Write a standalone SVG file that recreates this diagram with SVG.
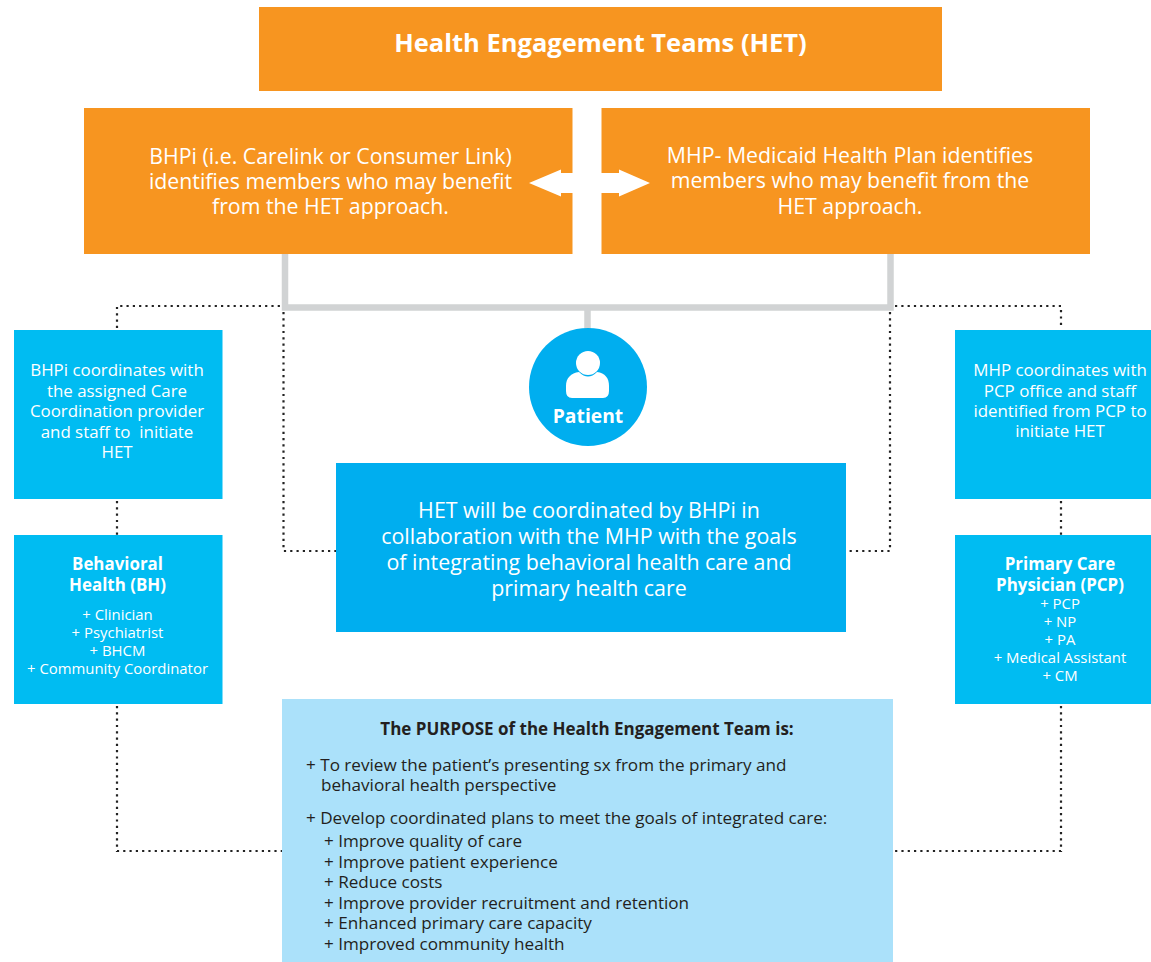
<svg xmlns="http://www.w3.org/2000/svg" width="1151" height="962" viewBox="0 0 1151 962">
<style>
text{font-family:"Open Sans","Noto Sans","Liberation Sans",sans-serif;text-anchor:middle;fill:#fff}
.o{fill:#f79520}.c{fill:#00bcf2}.b{fill:#00aeef}
.t20{font-size:21.300px}.t16{font-size:16.900px}.t14{font-size:14.900px}.bd{font-weight:700}
.p{fill:#231f20;text-anchor:start;font-size:17.100px}
.dot{fill:none;stroke:#222;stroke-width:2.200;stroke-dasharray:2.200 4.100}
.gr{fill:none;stroke:#d1d3d4;stroke-width:6.500}
</style>
<rect width="1151" height="962" fill="#fff"/>
<g id="connectors">
<path class="dot" d="M117 328V306H280M283.500 312V551H336M895 306H1061V328M890 312V551H846"/>
<path class="dot" d="M117 501V535M1061 501V535M117 706V851H282M1061 706V851H893"/>
<path class="gr" d="M285 254V307.500H890.500V254M587.500 307.500V329"/>
</g>
<g id="het"><rect class="o" x="259" y="7" width="683" height="84"/><text class="bd" x="600.500" y="52" font-size="25.500">Health Engagement Teams (HET)</text></g>
<g id="bhpi"><rect class="o" x="84" y="108" width="488.500" height="146"/>
<text class="t20" x="330.500" y="164">BHPi (i.e. Carelink or Consumer Link)</text><text class="t20" x="330.500" y="189">identifies members who may benefit</text><text class="t20" x="330.500" y="214">from the HET approach.</text></g>
<g id="mhp"><rect class="o" x="601.500" y="108" width="488.500" height="146"/>
<text class="t20" x="850" y="163">MHP- Medicaid Health Plan identifies</text><text class="t20" x="850" y="188">members who may benefit from the</text><text class="t20" x="850" y="214">HET approach.</text></g>
<g id="arrow"><path fill="#fff" d="M529 183L561 169.500V173H619V169.500L650 183L619 196.500V193H561V196.500Z"/></g>
<g id="bhpi-coord"><rect class="c" x="14" y="330" width="208.500" height="169"/>
<g class="t16"><text x="117" y="376">BHPi coordinates with</text><text x="117" y="396.500">the assigned Care</text><text x="117" y="417">Coordination provider</text><text x="117" y="437.500" xml:space="preserve">and staff to  initiate</text><text x="117" y="458">HET</text></g></g>
<g id="bh"><rect class="c" x="14" y="535" width="208.500" height="169"/>
<g class="t16 bd"><text x="117.500" y="570">Behavioral</text><text x="117.500" y="591">Health (BH)</text></g>
<g class="t14"><text x="117.500" y="620">+ Clinician</text><text x="117.500" y="638">+ Psychiatrist</text><text x="117.500" y="656">+ BHCM</text><text x="117.500" y="674">+ Community Coordinator</text></g></g>
<g id="mhp-coord"><rect class="c" x="955" y="330" width="196" height="169"/>
<g class="t16"><text x="1060" y="376">MHP coordinates with</text><text x="1060" y="396.500">PCP office and staff</text><text x="1060" y="417">identified from PCP to</text><text x="1060" y="437">initiate HET</text></g></g>
<g id="pcp"><rect class="c" x="955" y="535" width="196" height="169"/>
<g class="t16 bd"><text x="1060" y="570">Primary Care</text><text x="1060" y="591">Physician (PCP)</text></g>
<g class="t14"><text x="1060" y="609">+ PCP</text><text x="1060" y="627">+ NP</text><text x="1060" y="645">+ PA</text><text x="1060" y="663">+ Medical Assistant</text><text x="1060" y="681">+ CM</text></g></g>
<g id="patient"><circle class="b" cx="588" cy="387" r="59"/>
<circle cx="588" cy="363" r="12" fill="#fff"/><path fill="#fff" d="M566 391V386C566 378 571 373 579 372C585 378 591 378 597 372C605 373 609 378 609 386V391Q609 398 603 398H572Q566 398 566 391Z"/>
<text class="bd" x="588" y="423" font-size="19.300">Patient</text></g>
<g id="coordination"><rect class="b" x="336" y="463" width="510" height="169"/>
<g font-size="21.400"><text x="589" y="518">HET will be coordinated by BHPi in</text><text x="589" y="544">collaboration with the MHP with the goals</text><text x="589" y="570">of integrating behavioral health care and</text><text x="589" y="596">primary health care</text></g></g>
<g id="purpose"><rect x="282" y="699" width="611" height="263" fill="#abe1fa"/>
<text class="bd" x="587" y="735" font-size="17" style="fill:#231f20">The PURPOSE of the Health Engagement Team is:</text>
<text class="p" x="306" y="771">+ To review the patient’s presenting sx from the primary and</text>
<text class="p" x="321" y="791">behavioral health perspective</text>
<text class="p" x="306" y="824">+ Develop coordinated plans to meet the goals of integrated care:</text>
<text class="p" x="324" y="847">+ Improve quality of care</text>
<text class="p" x="324" y="868">+ Improve patient experience</text>
<text class="p" x="324" y="888">+ Reduce costs</text>
<text class="p" x="324" y="909">+ Improve provider recruitment and retention</text>
<text class="p" x="324" y="929">+ Enhanced primary care capacity</text>
<text class="p" x="324" y="950">+ Improved community health</text></g>
</svg>
